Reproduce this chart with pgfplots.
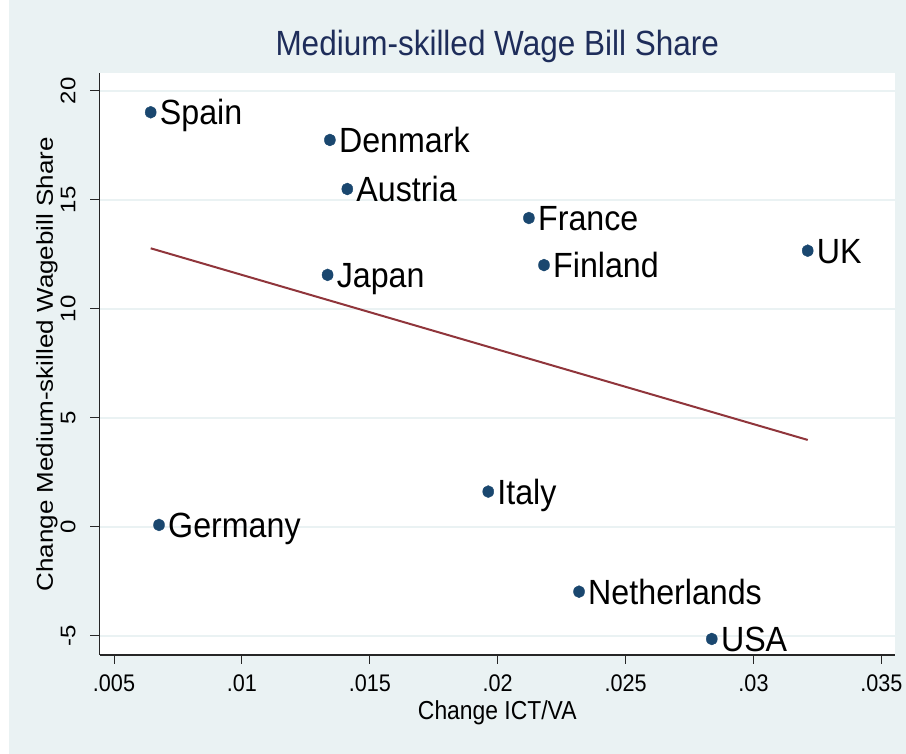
\documentclass[border=0pt]{standalone}
\usepackage{pgfplots}
\usepackage{pgfplotstable}
\pgfplotsset{compat=1.18}
\usepackage{fontspec}
\setmainfont{Liberation Sans}
\definecolor{bg}{RGB}{234,242,243}
\definecolor{navy}{RGB}{26,71,111}
\definecolor{maroon}{RGB}{144,53,59}
\definecolor{titlec}{RGB}{30,45,90}
\newcommand\hs[1]{\scalebox{0.9}[1]{#1}}
\newcommand\hl[1]{\scalebox{0.92}[1]{#1}}
\newcommand\vs[1]{\scalebox{1}[0.88]{#1}}

\pgfplotstableread{
x y label
0.006435 19.01 Spain
0.01344 17.74 Denmark
0.01412 15.49 Austria
0.01335 11.55 Japan
0.02122 14.16 France
0.02181 12.00 Finland
0.03212 12.66 UK
0.01963 1.61 Italy
0.00676 0.08 Germany
0.02318 -2.98 Netherlands
0.02837 -5.15 USA
}\datatable

\pgfplotstableread{
x y
0.006435 12.77
0.03212 3.98
}\fittable

\begin{document}
\begin{tikzpicture}[x=1pt,y=1pt]
\useasboundingbox (0,0) rectangle (906,754);
\fill[white] (0,0) rectangle (906,754);
\fill[bg] (9,0) rectangle (906,754);
\begin{axis}[
  at={(99.5pt,99pt)}, anchor=south west,
  scale only axis, width=795.5pt, height=581.5pt,
  xmin=0.004433, xmax=0.035532, ymin=-5.885, ymax=20.789,
  clip=false,
  scaled x ticks=false, scaled y ticks=false,
  axis background/.style={fill=white},
  axis x line*=bottom, axis y line*=left,
  axis line style={black!85, line width=1.1pt, -},
  tick align=outside, major tick length=9pt,
  tick style={black!85, line width=1pt},
  xtick={0.005,0.01,0.015,0.02,0.025,0.03,0.035},
  xticklabels={\hs{.005},\hs{.01},\hs{.015},\hs{.02},\hs{.025},\hs{.03},\hs{.035}},
  ytick={-5,0,5,10,15,20},
  yticklabels={\vs{-5},\vs{0},\vs{5},\vs{10},\vs{15},\vs{20}},
  xticklabel shift=10pt,
  yticklabel shift=15pt,
  xticklabel style={font=\fontsize{24}{24}\selectfont, inner sep=0pt, text height=17pt, text depth=0pt, anchor=north},
  yticklabel style={font=\fontsize{24}{24}\selectfont, inner sep=0pt, text depth=0pt, rotate=90, anchor=south},
  ymajorgrids, grid style={bg, line width=2pt},
  title={\hs{Medium-skilled Wage Bill Share}},
  title style={at={(axis description cs:0.5,1.0203)}, anchor=base, inner sep=0pt, font=\fontsize{35}{35}\selectfont, text=titlec},
  xlabel={\scalebox{0.88}[1]{Change ICT/VA}},
  xlabel style={at={(axis description cs:0.5,-0.1106)}, anchor=base, inner sep=0pt, font=\fontsize{26}{26}\selectfont},
  ylabel={\vs{Change Medium-skilled Wagebill Share}},
  ylabel style={at={(axis description cs:-0.05845,0.5)}, rotate=0, anchor=base, inner sep=0pt, font=\fontsize{26}{26}\selectfont},
]
\addplot[maroon, line width=2pt] table[x=x,y=y]{\fittable};
\addplot[only marks, mark=*, mark size=6pt, color=navy, mark options={xscale=0.92},
  point meta=explicit symbolic,
  nodes near coords={\hl{\pgfplotspointmeta}},
  nodes near coords style={anchor=west, inner sep=0pt, xshift=9pt, text height=25pt, text depth=0pt, font=\fontsize{35}{35}\selectfont, text=black}]
  table[x=x,y=y,meta=label]{\datatable};
\end{axis}
\end{tikzpicture}
\end{document}
